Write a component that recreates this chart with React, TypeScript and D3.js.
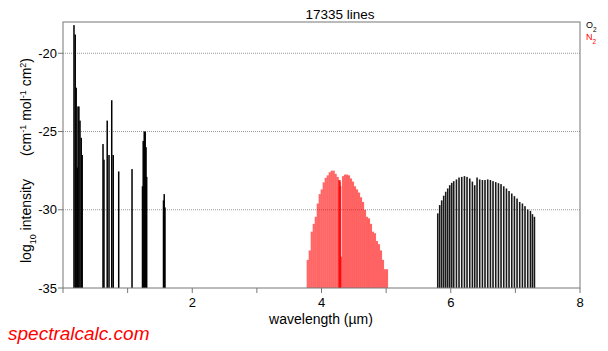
import { useEffect, useRef } from 'react'
import * as d3 from 'd3'

const X_TICKS = [0, 1, 2, 3, 4, 5, 6, 7, 8]
const X_LABELS = [2, 4, 6, 8]
const Y_TICKS = [-35, -30, -25, -20]
const Y_GRID = [-30, -25, -20]

// O2 electronic / overtone lines (UV to 1.6 um)
const O2_SHORT_WL = [0.170, 0.189, 0.204, 0.220, 0.232, 0.246, 0.263, 0.282, 0.297, 0.619, 0.634, 0.684, 0.712, 0.754, 0.777, 0.862, 1.068, 1.230, 1.241, 1.257, 1.272, 1.285, 1.295, 1.555, 1.566, 1.578]
const O2_SHORT_LOG = [-18.2, -18.8, -22.2, -27.3, -23.4, -23.4, -24.3, -25.4, -26.5, -25.8, -26.8, -24.3, -26.5, -23.0, -26.5, -27.55, -27.4, -28.5, -25.6, -25.0, -25.0, -26.0, -27.9, -29.4, -29.0, -29.85]

// O2 fundamental band near 6.4 um
const O2_BAND_WL = [5.799, 5.829, 5.860, 5.891, 5.922, 5.953, 5.984, 6.015, 6.046, 6.088, 6.128, 6.170, 6.212, 6.252, 6.294, 6.335, 6.371, 6.407, 6.448, 6.490, 6.530, 6.572, 6.614, 6.654, 6.696, 6.738, 6.778, 6.820, 6.862, 6.902, 6.944, 6.985, 7.026, 7.067, 7.109, 7.149, 7.191, 7.233, 7.264, 7.295]
const O2_BAND_LOG = [-30.23, -29.7, -29.4, -29.1, -28.85, -28.64, -28.43, -28.28, -28.17, -28.06, -27.94, -27.9, -27.85, -27.9, -28.0, -28.2, -28.43, -27.94, -28.06, -28.1, -28.1, -28.06, -28.1, -28.17, -28.23, -28.3, -28.36, -28.5, -28.64, -28.8, -28.96, -29.13, -29.28, -29.5, -29.6, -29.77, -29.98, -30.07, -30.28, -30.45]

// N2 quadrupole band near 4.3 um
const N2_BAND_WL = [3.787, 3.818, 3.849, 3.880, 3.911, 3.942, 3.972, 4.003, 4.034, 4.065, 4.096, 4.127, 4.158, 4.189, 4.220, 4.251, 4.274, 4.280, 4.286, 4.292, 4.302, 4.333, 4.364, 4.395, 4.426, 4.457, 4.488, 4.519, 4.550, 4.581, 4.612, 4.643, 4.674, 4.705, 4.735, 4.766, 4.797, 4.828, 4.859, 4.890, 4.921, 4.952, 4.983, 5.014]
const N2_BAND_LOG = [-33.2, -32.6, -31.4, -30.9, -30.45, -29.6, -29.0, -28.7, -28.25, -27.96, -27.8, -27.6, -27.5, -27.5, -27.7, -27.9, -28.1, -28.1, -28.2, -28.5, -33.0, -27.85, -27.75, -27.75, -27.8, -28.0, -28.2, -28.5, -28.7, -28.9, -29.2, -29.5, -30.0, -30.45, -30.55, -30.9, -31.4, -31.5, -32.0, -32.2, -32.6, -33.2, -33.8, -33.8]

const FONT = '"Liberation Sans", Arial, Helvetica, sans-serif'

export default function App() {
  const svgRef = useRef<SVGSVGElement>(null)

  useEffect(() => {
    if (!svgRef.current) return
    const svg = d3.select(svgRef.current)
    svg.selectAll('*').remove()

    const W = 608
    const H = 351
    const left = 63
    const right = 580
    const top = 22
    const bottom = 288

    svg.attr('width', W).attr('height', H).attr('viewBox', `0 0 ${W} ${H}`)
      .style('font-family', FONT)

    svg.append('rect').attr('width', W).attr('height', H).attr('fill', '#fff')

    const x = d3.scaleLinear().domain([0, 8]).range([left, right])
    const y = d3.scaleLinear().domain([-35, -18]).range([bottom, top])

    // grid
    svg.append('g').selectAll('line').data(Y_GRID).join('line')
      .attr('x1', left).attr('x2', right)
      .attr('y1', (d) => y(d)).attr('y2', (d) => y(d))
      .attr('stroke', '#999').attr('stroke-width', 1)
      .attr('stroke-dasharray', '1,1')

    const drawLines = (wl: number[], lg: number[], color: string, w: number, op: number) => {
      svg.append('g').selectAll('rect').data(wl).join('rect')
        .attr('x', (d) => x(d) - w / 2)
        .attr('y', (_d, i) => y(lg[i]))
        .attr('width', w)
        .attr('height', (_d, i) => y(-35) - y(lg[i]))
        .attr('fill', color)
        .attr('fill-opacity', op)
    }

    drawLines(N2_BAND_WL, N2_BAND_LOG, '#ff0000', 2.1, 0.6)
    drawLines(O2_SHORT_WL, O2_SHORT_LOG, '#000', 1.5, 1)
    drawLines(O2_BAND_WL, O2_BAND_LOG, '#000', 1.6, 0.9)

    // frame
    svg.append('rect')
      .attr('x', left).attr('y', top)
      .attr('width', right - left).attr('height', bottom - top)
      .attr('fill', 'none').attr('stroke', '#777').attr('stroke-width', 1)

    // x ticks
    svg.append('g').selectAll('line').data(X_TICKS).join('line')
      .attr('x1', (d) => x(d)).attr('x2', (d) => x(d))
      .attr('y1', bottom).attr('y2', bottom + 5)
      .attr('stroke', '#777')
    svg.append('g').selectAll('text').data(X_LABELS).join('text')
      .attr('x', (d) => x(d)).attr('y', 307)
      .attr('text-anchor', 'middle').attr('font-size', 13).attr('fill', '#000')
      .text((d) => d)

    // y ticks
    svg.append('g').selectAll('line').data(Y_TICKS).join('line')
      .attr('x1', left - 5).attr('x2', left)
      .attr('y1', (d) => y(d)).attr('y2', (d) => y(d))
      .attr('stroke', '#777')
    svg.append('g').selectAll('text').data(Y_TICKS).join('text')
      .attr('x', 57).attr('y', (d) => y(d)).attr('dy', '0.36em')
      .attr('text-anchor', 'end').attr('font-size', 13).attr('fill', '#000')
      .text((d) => d)

    // title
    svg.append('text')
      .attr('x', 340).attr('y', 19)
      .attr('text-anchor', 'middle').attr('font-size', 13.5)
      .text('17335 lines')

    // x label
    svg.append('text')
      .attr('x', 321).attr('y', 324)
      .attr('text-anchor', 'middle').attr('font-size', 14)
      .text('wavelength (\u00b5m)')

    // y label
    const yl = svg.append('text')
      .attr('transform', 'translate(31,263) rotate(-90)')
      .attr('font-size', 14)
    yl.append('tspan').text('log')
    yl.append('tspan').attr('font-size', 9).attr('baseline-shift', 'sub').text('10')
    yl.append('tspan').text(' intensity')
    yl.append('tspan').attr('dx', 23).text('(cm')
    yl.append('tspan').attr('font-size', 9).attr('baseline-shift', 'super').text('-1')
    yl.append('tspan').text(' mol')
    yl.append('tspan').attr('font-size', 9).attr('baseline-shift', 'super').text('-1')
    yl.append('tspan').text(' cm')
    yl.append('tspan').attr('font-size', 9).attr('baseline-shift', 'super').text('2')
    yl.append('tspan').text(')')

    // legend
    const legend = [
      { name: 'O', color: '#000', y: 28 },
      { name: 'N', color: '#ff0000', y: 40 },
    ]
    legend.forEach((d) => {
      const t = svg.append('text').attr('x', 586).attr('y', d.y)
        .attr('font-size', 9).attr('fill', d.color)
      t.append('tspan').text(d.name)
      t.append('tspan').attr('font-size', 6.5).attr('baseline-shift', 'sub').text('2')
    })

    // watermark
    svg.append('text')
      .attr('x', 8).attr('y', 340)
      .attr('font-size', 19).attr('font-style', 'italic')
      .attr('fill', '#ff0000')
      .text('spectralcalc.com')
  }, [])

  return <svg ref={svgRef} style={{ position: 'absolute', left: 0, top: 0 }} />
}
